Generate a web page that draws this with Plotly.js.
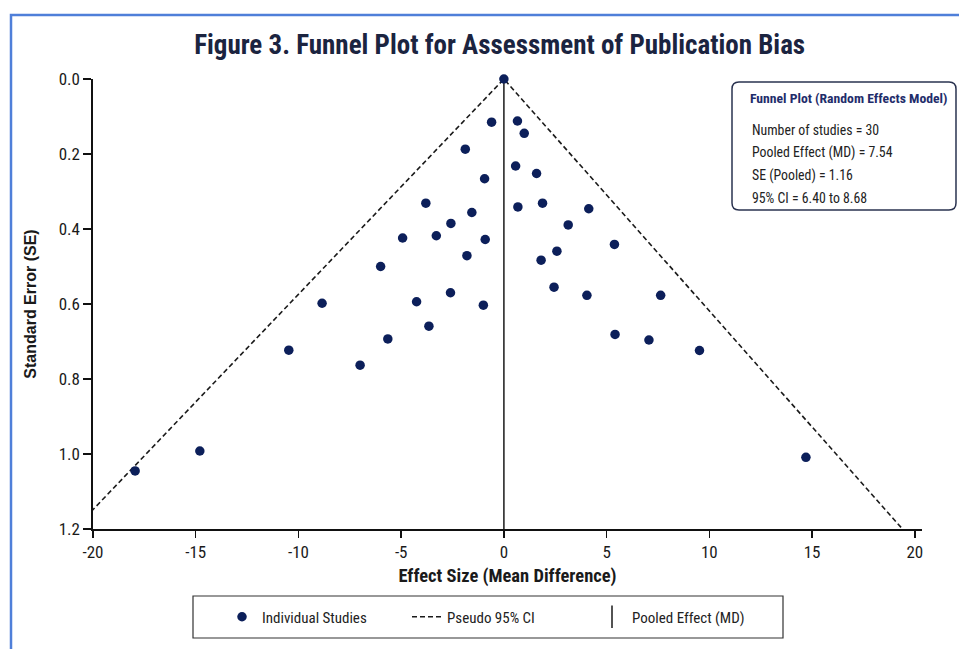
<!DOCTYPE html>
<html>
<head>
<meta charset="utf-8">
<script src="https://cdn.plot.ly/plotly-3.0.1.min.js"></script>
<style>
  html, body { margin: 0; padding: 0; background: #ffffff; }
  #chart { width: 959px; height: 649px; }
</style>
</head>
<body>
<div id="chart"></div>
<script>
// ---- Data ----
const effectSize = [
  0.00, -0.60, 0.66, 0.99, -1.88, 0.57, 1.59, -0.94, -3.80, 0.68,
  1.88, 4.13, -1.56, -2.58, 3.13, -3.29, -4.93, -0.91, 5.38, 2.58,
  -1.80, 1.81, -6.00, 2.44, -2.60, 4.04, 7.63, -8.85, -4.25, -1.00,
  -3.65, 5.41, -5.65, 7.06, -10.47, 9.52, -7.00, -14.80, 14.70, -17.95
];
const standardError = [
  0.000, 0.115, 0.112, 0.145, 0.187, 0.232, 0.252, 0.266, 0.331, 0.341,
  0.331, 0.346, 0.356, 0.385, 0.389, 0.418, 0.424, 0.428, 0.441, 0.459,
  0.471, 0.483, 0.500, 0.555, 0.570, 0.577, 0.577, 0.598, 0.594, 0.603,
  0.659, 0.681, 0.693, 0.696, 0.723, 0.724, 0.763, 0.992, 1.009, 1.045
];
// Pseudo 95% CI funnel (left limit, apex, right limit)
const funnelX = [-20.9, 0, 19.4];
const funnelSE = [1.2, 0, 1.2];
// Pooled effect reference line
const pooledX = [0, 0];
const pooledSE = [0, 1.2];

const xTickVals = [-20, -15, -10, -5, 0, 5, 10, 15, 20];
const xTickText = ["-20", "-15", "-10", "-5", "0", "5", "10", "15", "20"];
const yTickVals = [0, 0.2, 0.4, 0.6, 0.8, 1.0, 1.2];
const yTickText = ["0.0", "0.2", "0.4", "0.6", "0.8", "1.0", "1.2"];

const boxTitle = "Funnel Plot (Random Effects Model)";
const boxLines = [
  "Number of studies = 30",
  "Pooled Effect (MD) = 7.54",
  "SE (Pooled) = 1.16",
  "95% CI = 6.40 to 8.68"
];

// ---- Layout helpers (pixel -> paper) ----
const L = 93, R = 922, T = 79, B = 529, W = 959, H = 649;
const px = x => (x - L) / (R - L);
const py = y => (B - y) / (B - T);

function roundRect(x0, y0, x1, y1, r) {
  const p = (x, y) => px(x).toFixed(5) + ',' + py(y).toFixed(5);
  return 'M' + p(x0 + r, y0) + ' L' + p(x1 - r, y0) + ' Q' + p(x1, y0) + ' ' + p(x1, y0 + r) +
    ' L' + p(x1, y1 - r) + ' Q' + p(x1, y1) + ' ' + p(x1 - r, y1) +
    ' L' + p(x0 + r, y1) + ' Q' + p(x0, y1) + ' ' + p(x0, y1 - r) +
    ' L' + p(x0, y0 + r) + ' Q' + p(x0, y0) + ' ' + p(x0 + r, y0) + ' Z';
}

const FONT = '"Liberation Sans Narrow", "Roboto Condensed", "Arial Narrow", Roboto, sans-serif';
const FONT_WIDE = '"Liberation Sans", Arial, sans-serif';
const NAVY = '#0c1f5a';

const traces = [
  {
    type: 'scatter', mode: 'lines', name: 'Pseudo 95% CI',
    x: funnelX, y: funnelSE,
    line: { color: '#1a1a1a', width: 1.6, dash: '5px,3px' },
    hoverinfo: 'skip'
  },
  {
    type: 'scatter', mode: 'lines', name: 'Pooled Effect (MD)', showlegend: false,
    x: pooledX, y: pooledSE,
    line: { color: '#1a1a1a', width: 1.5 },
    hoverinfo: 'skip'
  },
  {
    type: 'scatter', mode: 'markers', name: 'Individual Studies',
    x: effectSize, y: standardError,
    marker: { color: NAVY, size: 9.5, line: { width: 0 } },
    cliponaxis: false
  },
  {
    type: 'scatter', mode: 'markers', name: 'Pooled Effect (MD)',
    x: [null], y: [null],
    marker: { symbol: 'line-ns-open', size: 16, color: '#1a1a1a', line: { color: '#1a1a1a', width: 1.5 } }
  }
];

const annotations = [
  {
    xref: 'paper', yref: 'paper', x: px(748), y: py(98), xanchor: 'left', yanchor: 'middle',
    text: '<b>' + boxTitle + '</b>', showarrow: false,
    font: { family: FONT, size: 13.7, color: '#1f2d6b' }
  }
];
const lineY = [130, 153, 176, 198];
boxLines.forEach((t, i) => {
  annotations.push({
    xref: 'paper', yref: 'paper', x: px(750), y: py(lineY[i]), xanchor: 'left', yanchor: 'middle',
    text: t, showarrow: false,
    font: { family: FONT, size: 13.8, color: '#222222' }
  });
});

const shapes = [
  // outer blue frame
  {
    type: 'rect', xref: 'paper', yref: 'paper',
    x0: px(11), x1: px(990), y0: py(15), y1: py(720),
    line: { color: '#4f7fd9', width: 2.5 }, fillcolor: 'rgba(0,0,0,0)', layer: 'below'
  },
  // inset stats box
  {
    type: 'path', xref: 'paper', yref: 'paper',
    path: roundRect(732, 82, 956, 210, 7),
    line: { color: '#2a3350', width: 1.5 }, fillcolor: '#ffffff'
  },
  // legend frame
  {
    type: 'rect', xref: 'paper', yref: 'paper',
    x0: px(193), x1: px(783), y0: py(596), y1: py(638),
    line: { color: '#333333', width: 1.2 }, fillcolor: 'rgba(0,0,0,0)'
  }
];

const layout = {
  width: W, height: H,
  margin: { l: L, r: W - R, t: T, b: H - B, pad: 0 },
  paper_bgcolor: '#ffffff', plot_bgcolor: '#ffffff',
  font: { family: FONT, color: '#1a1a1a' },
  title: {
    text: '<b>Figure 3. Funnel Plot for Assessment of Publication Bias</b>',
    font: { family: FONT, size: 27, color: '#1b2440' },
    x: 0.521, xanchor: 'center', xref: 'container',
    y: 1 - 45 / H, yanchor: 'middle', yref: 'container'
  },
  xaxis: {
    range: [-20, 20.35], tickvals: xTickVals, ticktext: xTickText,
    showgrid: false, zeroline: false, showline: true, linecolor: '#111111', linewidth: 1.6,
    ticks: 'outside', ticklen: 7, tickwidth: 1.4, tickcolor: '#111111',
    tickfont: { family: FONT, size: 17, color: '#1a1a1a' },
    title: { text: '<b>Effect Size (Mean Difference)</b>', font: { family: FONT, size: 18.5, color: '#1a1a1a' }, standoff: 8 },
    fixedrange: true
  },
  yaxis: {
    range: [1.2, 0], tickvals: yTickVals, ticktext: yTickText,
    showgrid: false, zeroline: false, showline: true, linecolor: '#111111', linewidth: 1.6,
    ticks: 'outside', ticklen: 8, tickwidth: 1.4, tickcolor: '#111111',
    tickfont: { family: FONT, size: 17, color: '#1a1a1a' },
    title: { text: '<b>Standard Error (SE)</b>', font: { family: FONT_WIDE, size: 16, color: '#1a1a1a' }, standoff: 18 },
    fixedrange: true
  },
  showlegend: true,
  legend: {
    orientation: 'h', xref: 'paper', yref: 'paper',
    x: px(222), y: py(617), xanchor: 'left', yanchor: 'middle',
    bgcolor: 'rgba(0,0,0,0)', borderwidth: 0,
    font: { family: FONT, size: 15, color: '#222222' },
    traceorder: 'normal', entrywidthmode: 'pixels', entrywidth: 140,
    itemclick: false, itemdoubleclick: false
  },
  annotations: annotations,
  shapes: shapes
};

// legend order: Individual Studies, Pseudo 95% CI, Pooled Effect
traces[2].legendrank = 1;
traces[0].legendrank = 2;
traces[3].legendrank = 3;

Plotly.newPlot('chart', traces, layout, { displayModeBar: false, staticPlot: true });
</script>
</body>
</html>
